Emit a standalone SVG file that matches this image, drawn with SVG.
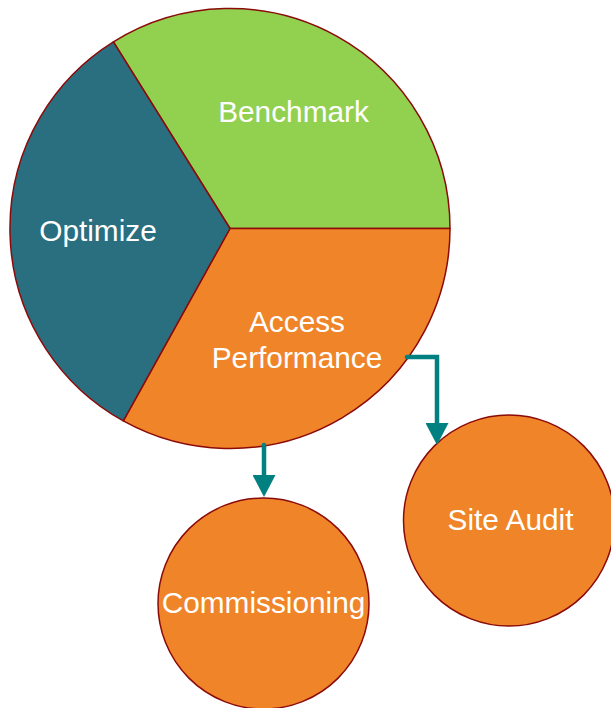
<svg xmlns="http://www.w3.org/2000/svg" width="611" height="708" viewBox="0 0 611 708">
<style>
.shape{stroke:#8B0A0A;stroke-width:1.5;stroke-linejoin:round}
.green{fill:#92D050}
.teal{fill:#2A6F7F}
.orange{fill:#F08428}
.lbl{font-family:"Liberation Sans",Arial,sans-serif;font-size:29.8px;fill:#FFFFFF;text-anchor:middle}
.conn{fill:none;stroke:#008080;stroke-width:4.5;stroke-linecap:round;stroke-linejoin:miter}
</style>
<defs>
<marker id="arrow" viewBox="0 0 22 23" refX="0" refY="11.5" markerWidth="22" markerHeight="23" markerUnits="userSpaceOnUse" orient="auto">
<path d="M0,0 L22,11.5 L0,23 Z" fill="#008080"/>
</marker>
</defs>
<rect width="611" height="708" fill="#FFFFFF"/>
<g id="benchmark">
<path class="shape green" d="M230,228.5 L113.4,41.9 A220,220 0 0 1 450,228.5 Z"/>
<text class="lbl" x="293.5" y="122">Benchmark</text>
</g>
<g id="access-performance">
<path class="shape orange" d="M230,228.5 L450,228.5 A220,220 0 0 1 123.3,420.9 Z"/>
<text class="lbl" x="297" y="332">Access</text>
<text class="lbl" x="297" y="368">Performance</text>
</g>
<g id="optimize">
<path class="shape teal" d="M230,228.5 L123.3,420.9 A220,220 0 0 1 113.4,41.9 Z"/>
<text class="lbl" x="98" y="241">Optimize</text>
</g>
<g id="commissioning">
<circle class="shape orange" cx="263.5" cy="603.5" r="105.5"/>
<text class="lbl" x="263.5" y="613">Commissioning</text>
</g>
<g id="site-audit">
<circle class="shape orange" cx="509" cy="520.5" r="105.5"/>
<text class="lbl" x="510.5" y="530">Site Audit</text>
</g>
<g id="connectors">
<path class="conn" d="M264,445 V475" marker-end="url(#arrow)"/>
<path class="conn" d="M407,357 H437 V423" marker-end="url(#arrow)"/>
</g>
</svg>
